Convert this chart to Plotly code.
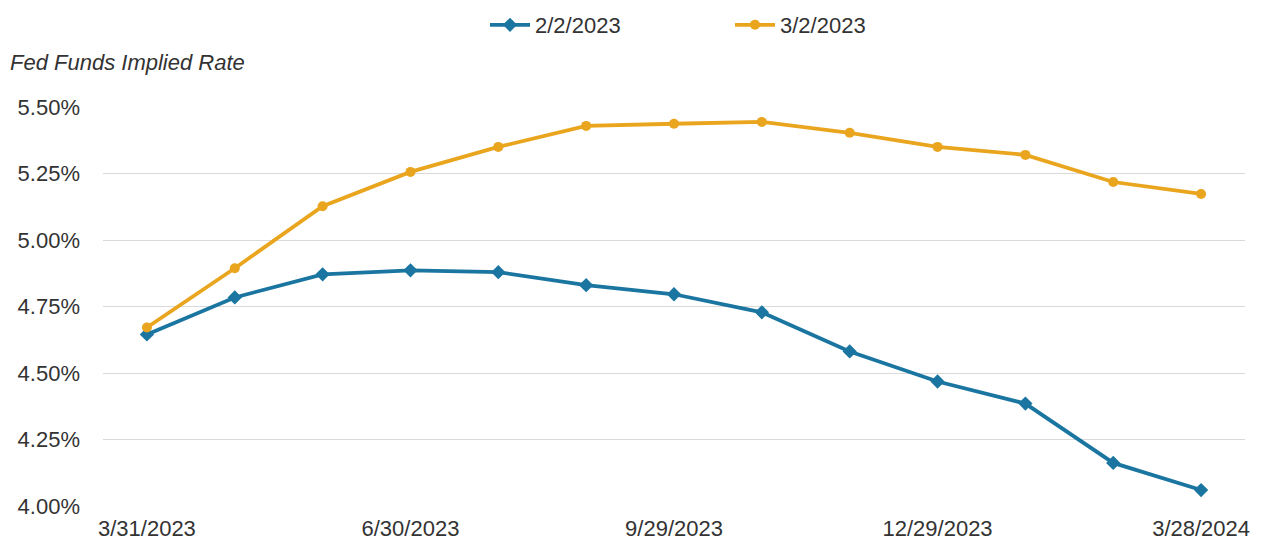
import plotly.graph_objects as go

# Month-end observation dates along the curve
dates = ["3/31/2023", "4/28/2023", "5/31/2023", "6/30/2023", "7/28/2023",
         "8/31/2023", "9/29/2023", "10/31/2023", "11/30/2023", "12/29/2023",
         "1/31/2024", "2/29/2024", "3/28/2024"]

# Implied fed funds rate (%) as priced on each date
rates_feb2 = [4.645, 4.784, 4.871, 4.886, 4.879, 4.830, 4.796, 4.728,
              4.581, 4.468, 4.385, 4.162, 4.060]
rates_mar2 = [4.671, 4.894, 5.127, 5.256, 5.350, 5.429, 5.437, 5.444,
              5.403, 5.350, 5.320, 5.218, 5.173]

x_ticks = ["3/31/2023", "6/30/2023", "9/29/2023", "12/29/2023", "3/28/2024"]
y_ticks = [4.00, 4.25, 4.50, 4.75, 5.00, 5.25, 5.50]

BLUE = "#1a76a0"
GOLD = "#eaa51e"
TEXT = "#333333"
FONT = "Liberation Sans, Arial, sans-serif"

W, H = 1262, 546
L, R, T, B = 103, 17, 107, 40
plot_w, plot_h = W - L - R, H - T - B

fig = go.Figure()
fig.add_trace(go.Scatter(
    x=dates, y=rates_feb2, name="2/2/2023", mode="lines+markers",
    line=dict(color=BLUE, width=3.8),
    marker=dict(symbol="diamond", size=11, color=BLUE),
))
fig.add_trace(go.Scatter(
    x=dates, y=rates_mar2, name="3/2/2023", mode="lines+markers",
    line=dict(color=GOLD, width=3.8),
    marker=dict(symbol="circle", size=10, color=GOLD),
))

fig.update_layout(
    width=W, height=H,
    margin=dict(l=L, r=R, t=T, b=B, autoexpand=False),
    paper_bgcolor="white", plot_bgcolor="white",
    font=dict(family=FONT, size=22, color=TEXT),
    showlegend=True,
    legend=dict(orientation="h", xref="container", yref="container",
                x=485 / W, xanchor="left", y=1 - 25 / H, yanchor="middle",
                font=dict(size=22, color=TEXT), itemwidth=40,
                entrywidthmode="pixels", entrywidth=190, traceorder="normal",
                bgcolor="rgba(0,0,0,0)"),
    xaxis=dict(type="category", range=[-0.5, len(dates) - 0.5],
               tickmode="array", tickvals=x_ticks, ticktext=x_ticks,
               showgrid=False, showline=False, zeroline=False, ticks="",
               ticklabelstandoff=7, automargin=False,
               tickfont=dict(size=22, color=TEXT)),
    yaxis=dict(range=[4.0, 5.5], tickmode="array", tickvals=y_ticks,
               ticktext=[f"{v:.2f}%" for v in y_ticks],
               showgrid=True, gridcolor="#d9d9d9", gridwidth=1, zeroline=False,
               showline=False, ticks="", ticklabelstandoff=22, automargin=False,
               tickfont=dict(size=22, color=TEXT)),
    annotations=[dict(text="<i>Fed Funds Implied Rate</i>", xref="paper", yref="paper",
                      x=-(L - 8) / plot_w, y=(H - B - 62) / plot_h,
                      xanchor="left", yanchor="middle",
                      showarrow=False, font=dict(size=22, color=TEXT))],
)

fig.write_html("out.html")
